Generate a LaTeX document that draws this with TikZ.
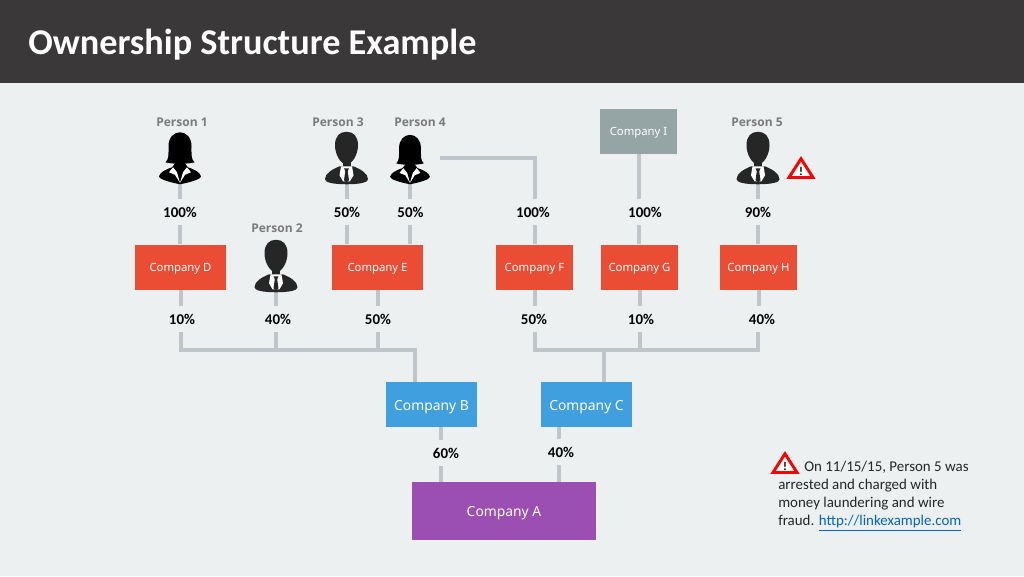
\documentclass[tikz,border=0pt]{standalone}
\usepackage{fontspec}
\setmainfont{Carlito}
\newfontfamily\uifont{Noto Sans}
\newfontfamily\labfont{Open Sans}
\definecolor{bgc}{HTML}{ECF0F1}
\definecolor{headc}{HTML}{3A3839}
\definecolor{linec}{HTML}{BFC5C8}
\definecolor{redc}{HTML}{EA4C34}
\definecolor{bluec}{HTML}{409FDF}
\definecolor{purc}{HTML}{9B4FB3}
\definecolor{greyc}{HTML}{95A5A6}
\definecolor{persc}{HTML}{7B7B7D}
\definecolor{sil}{HTML}{262626}
\definecolor{linkc}{HTML}{0563C1}
\tikzset{
  x=0.75pt,y=-0.75pt,
  company/.style={inner sep=0pt,text=white,text height=7.4pt,text depth=0pt,font=\uifont\fontsize{8.5}{10}\selectfont},
  bigco/.style={company,text height=9.4pt,font=\uifont\fontsize{10.4}{12}\selectfont},
  pct/.style={inner sep=0pt,minimum width=10pt,minimum height=18.5pt,font=\bfseries\fontsize{11.2}{12}\selectfont,text=black},
  perslabel/.style={inner sep=0pt,text=persc,font=\labfont\bfseries\fontsize{9}{10}\selectfont},
  personbox/.style={inner sep=0pt,minimum width=45pt,minimum height=39pt},
  conn/.style={draw=linec,line width=3pt},
  pics/man/.style={code={
    \fill[sil] (0,-20) .. controls (-6,-20) and (-11.5,-30) .. (-11.5,-39)
       .. controls (-11.5,-48) and (-7,-52.5) .. (0,-52.5)
       .. controls (7,-52.5) and (11.5,-48) .. (11.5,-39)
       .. controls (11.5,-30) and (6,-20) .. cycle;
    \fill[sil] (-4,-24) rectangle (4,-16);
    \fill[sil] (-21.5,-5) .. controls (-21.5,-11) and (-14,-15) .. (-7,-18)
       -- (7,-18) .. controls (14,-15) and (21.5,-11) .. (21.5,-5)
       .. controls (21.5,-2) and (14,0) .. (0,0)
       .. controls (-14,0) and (-21.5,-2) .. cycle;
    \fill[white] (-5.5,-18) -- (5.5,-18) -- (7,-9) -- (3.5,-3) -- (-3.5,-3) -- (-7,-9) -- cycle;
    \fill[sil] (-2.5,-16) -- (2.5,-16) -- (1.2,-13) -- (2.5,-4) -- (0,-2) -- (-2.5,-4) -- (-1.2,-13) -- cycle;
  }},
  pics/woman/.style={code={
    \fill[black] (-14.5,-22) .. controls (-11,-25) and (-11.5,-30) .. (-11.5,-38)
       .. controls (-11.5,-47) and (-6,-52) .. (0,-52)
       .. controls (6,-52) and (11.5,-47) .. (11.5,-38)
       .. controls (11.5,-30) and (11,-25) .. (14.5,-22)
       .. controls (8,-20) and (-8,-20) .. cycle;
    \fill[black] (-21,-8) .. controls (-20,-12) and (-14,-15) .. (-8,-17)
       -- (-4,-22) -- (4,-22) -- (8,-17) .. controls (14,-15) and (20,-12) .. (21,-8)
       .. controls (21,-5) and (10,-2) .. (0,0)
       .. controls (-10,-2) and (-21,-5) .. (-21,-8) -- cycle;
    \fill[white] (-7,-17) -- (-11,-12) -- (-5,-9.5) -- (-3.5,-7) -- (0,-1.5) -- (-3,-12) -- cycle;
    \fill[white] (7,-17) -- (11,-12) -- (5,-9.5) -- (3.5,-7) -- (0,-1.5) -- (3,-12) -- cycle;
  }},
  pics/warn/.style={code={
    \draw[draw=red,fill=white,line width=2.2pt,line join=miter]
      (0,-10.2) -- (12,8.5) -- (-12,8.5) -- cycle;
    \node[inner sep=0pt,font=\bfseries\fontsize{9}{9}\selectfont,text=black] at (0,2.5) {!};
  }}
}
\begin{document}
\begin{tikzpicture}
\useasboundingbox (0,0) rectangle (1024,576);
\fill[bgc] (0,0) rectangle (1024,576);
\fill[headc] (0,0) rectangle (1024,83);
\node[inner sep=0pt,anchor=west,text=white,font=\bfseries\fontsize{27.2}{30}\selectfont] (title) at (28,44.5) {Ownership Structure Example};

% persons
\node[personbox] (p1) at (180,158) {};
\node[personbox] (p2) at (276,266) {};
\node[personbox] (p3) at (346.5,158) {};
\node[personbox] (p4) at (410,158) {};
\node[personbox] (p5) at (758,158) {};
\node[perslabel] (n1) at (182,122) {Person 1};
\node[perslabel] (n2) at (277,228) {Person 2};
\node[perslabel] (n3) at (338,122) {Person 3};
\node[perslabel] (n4) at (420,122) {Person 4};
\node[perslabel] (n5) at (757,122) {Person 5};

% companies
\node[company,fill=greyc,minimum width=57.75pt,minimum height=33.75pt] (ci) at (638.5,131) {Company I};
\node[company,fill=redc,minimum width=68.25pt,minimum height=33.75pt] (cd) at (180.5,267) {Company D};
\node[company,fill=redc,minimum width=68.25pt,minimum height=33.75pt] (ce) at (377.5,267) {Company E};
\node[company,fill=redc,minimum width=57.75pt,minimum height=33.75pt] (cf) at (534.5,267) {Company F};
\node[company,fill=redc,minimum width=57.75pt,minimum height=33.75pt] (cg) at (639.5,267) {Company G};
\node[company,fill=redc,minimum width=57.75pt,minimum height=33.75pt] (ch) at (758.5,267) {Company H};
\node[bigco,fill=bluec,minimum width=68.25pt,minimum height=33.75pt] (cb) at (431.5,404.5) {Company B};
\node[bigco,fill=bluec,minimum width=68.25pt,minimum height=33.75pt] (cc) at (586.5,404.5) {Company C};
\node[bigco,fill=purc,minimum width=138pt,minimum height=43.5pt,text height=8pt] (ca) at (504,511) {Company A};

% percent labels
\node[pct] (l1) at (180,212) {100\%};
\node[pct] (l3) at (347,212) {50\%};
\node[pct] (l4) at (410.5,212) {50\%};
\node[pct] (l45) at (533,212) {100\%};
\node[pct] (li) at (645,212) {100\%};
\node[pct] (l5) at (758,212) {90\%};
\node[pct] (ld) at (182,319) {10\%};
\node[pct] (l2) at (278,319) {40\%};
\node[pct] (le) at (378,319) {50\%};
\node[pct] (lf) at (534,319) {50\%};
\node[pct] (lg) at (641,319) {10\%};
\node[pct] (lh) at (762,319) {40\%};
\node[pct] (lb) at (446,453) {60\%};
\node[pct] (lc) at (561,452) {40\%};

% junctions
\coordinate (j1) at (415,350);
\coordinate (j2) at (758,350);
\coordinate (j3) at (604,350);
\coordinate (xa) at (441,482);
\coordinate (xb) at (559,482);

% connectors: owners to labels and labels to companies
\draw[conn] (p1.south) -- (p1.south |- l1.north);
\draw[conn] (p1.south |- l1.south) -- (p1.south |- cd.north);
\draw[conn] (p3.south) -- (p3.south |- l3.north);
\draw[conn] (p3.south |- l3.south) -- (p3.south |- ce.north);
\draw[conn] (p4.south) -- (p4.south |- l4.north);
\draw[conn] (p4.south |- l4.south) -- (p4.south |- ce.north);
\draw[conn] (p4.east) -| (cf.north |- l45.north);
\draw[conn] (cf.north |- l45.south) -- (cf.north);
\draw[conn] (ci.south) -- (ci.south |- li.north);
\draw[conn] (ci.south |- li.south) -- (ci.south |- cg.north);
\draw[conn] (p5.south) -- (p5.south |- l5.north);
\draw[conn] (p5.south |- l5.south) -- (p5.south |- ch.north);

% companies to labels
\draw[conn] (cd.south) -- (cd.south |- ld.north);
\draw[conn] (p2.south) -- (p2.south |- l2.north);
\draw[conn] (ce.south) -- (ce.south |- le.north);
\draw[conn] (cf.south) -- (cf.south |- lf.north);
\draw[conn] (cg.south) -- (cg.south |- lg.north);
\draw[conn] (ch.south) -- (ch.south |- lh.north);

% buses
\draw[conn] (cd.south |- ld.south) |- (j1) -- (j1 |- cb.north);
\draw[conn] (p2.south |- l2.south) -- (p2.south |- j1);
\draw[conn] (ce.south |- le.south) -- (ce.south |- j1);
\draw[conn] (cf.south |- lf.south) |- (j2) -- (j2 |- lh.south);
\draw[conn] (cg.south |- lg.south) -- (cg.south |- j2);
\draw[conn] (j3) -- (j3 |- cc.north);

% into company A
\draw[conn] (xa |- cb.south) -- (xa |- lb.north);
\draw[conn] (xa |- lb.south) -- (xa |- ca.north);
\draw[conn] (xb |- cc.south) -- (xb |- lc.north);
\draw[conn] (xb |- lc.south) -- (xb |- ca.north);

% silhouettes
\pic at (p1.south) {woman};
\pic at (p2.south) {man};
\pic at (p3.south) {man};
\pic[scale=.95] at (p4.south) {woman};
\pic at (p5.south) {man};

% warnings
\pic at (801,169) {warn};
\pic at (785,464) {warn};

\node[inner sep=0pt,anchor=north west,align=left,text=black!85,font=\fontsize{11.2}{13.5}\selectfont] (note) at (778,461)
  {\hspace*{19.5pt}On 11/15/15, Person 5 was\\arrested and charged with\\money laundering and wire\\fraud. \textcolor{linkc}{\underline{http://linkexample.com}}};
\end{tikzpicture}
\end{document}
